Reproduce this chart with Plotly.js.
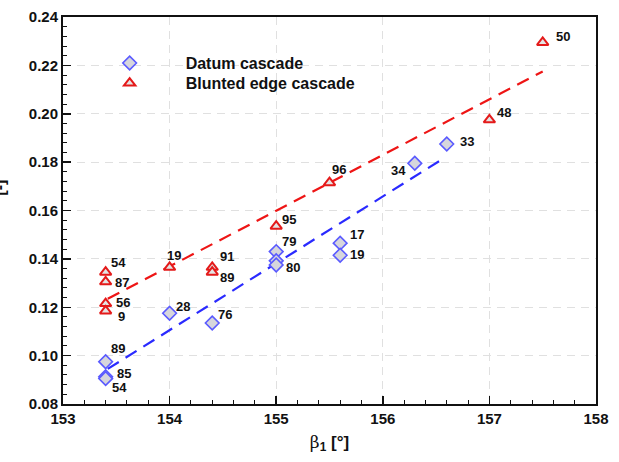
<!DOCTYPE html>
<html>
<head>
<meta charset="utf-8">
<script src="https://cdn.plot.ly/plotly-3.0.1.min.js"></script>
<style>html,body{margin:0;padding:0;background:#fff;}#chart{width:619px;height:462px;}</style>
</head>
<body>
<div id="chart"></div>
<script>
// Datum cascade
const datumX = [153.4, 153.4, 153.4, 154.0, 154.4, 155.0, 155.0, 155.0, 155.6, 155.6, 156.3, 156.6];
const datumY = [0.0975, 0.0913, 0.0905, 0.1175, 0.1135, 0.143, 0.1392, 0.1375, 0.1465, 0.1415, 0.1795, 0.1875];
const datumLbl = ['89', '85', '54', '28', '76', '79', '', '80', '17', '19', '34', '33'];
// Blunted edge cascade
const bluntX = [153.4, 153.4, 153.4, 153.4, 154.0, 154.4, 154.4, 155.0, 155.5, 157.0, 157.5];
const bluntY = [0.1345, 0.1305, 0.1215, 0.1185, 0.1365, 0.1365, 0.1345, 0.1535, 0.1715, 0.1975, 0.2295];
const bluntLbl = ['54', '87', '56', '9', '19', '91', '89', '95', '96', '48', '50'];
// linear fit end points
const datumFitX = [153.42, 156.55];
const datumFitY = [0.0945, 0.181];
const bluntFitX = [153.42, 157.5];
const bluntFitY = [0.1235, 0.2175];
const xTicks = [153, 154, 155, 156, 157, 158];
const yTicks = [0.08, 0.10, 0.12, 0.14, 0.16, 0.18, 0.20, 0.22, 0.24];

// label offsets (px, right / down)
const datumOff = [[12,-13],[18,-3],[14,9],[13,-7],[13,-8],[13,-10],[0,0],[17,3],[17,-9],[17,-1],[-16,7],[20,-2]];
const bluntOff = [[13,-10],[16,1],[17,-1],[16,6],[4,-12],[15,-11],[15,5],[13,-7],[9,-13],[15,-7],[20,-6]];

const FF = 'Liberation Sans, Arial, sans-serif';
const lblFont = {family: FF, size: 13, color: '#111'};
const annotations = [];
function addLabels(xs, ys, ls, offs) {
  for (let i = 0; i < xs.length; i++) {
    if (!ls[i]) continue;
    annotations.push({x: xs[i], y: ys[i], xref: 'x', yref: 'y', text: '<b>' + ls[i] + '</b>',
      showarrow: false, xshift: offs[i][0], yshift: -offs[i][1], font: lblFont});
  }
}
addLabels(datumX, datumY, datumLbl, datumOff);
addLabels(bluntX, bluntY, bluntLbl, bluntOff);
annotations.push({xref: 'paper', yref: 'paper', x: -0.139, y: 0.56, text: '<b>[-]</b>', textangle: -90,
  showarrow: false, font: {family: FF, size: 16, color: '#111'}});

const traces = [
  {x: datumFitX, y: datumFitY, mode: 'lines', showlegend: false, hoverinfo: 'skip',
   line: {color: '#2a2aff', width: 2.2, dash: '13px,8px'}},
  {x: bluntFitX, y: bluntFitY, mode: 'lines', showlegend: false, hoverinfo: 'skip',
   line: {color: '#ee1515', width: 2.2, dash: '13px,8px'}},
  {x: datumX, y: datumY, mode: 'markers', name: 'Datum cascade', legend: 'legend',
   marker: {symbol: 'diamond', size: 10.5, color: '#d6d6dc', line: {color: '#5a5aff', width: 1.6}}},
  {x: bluntX, y: bluntY, mode: 'markers', name: 'Blunted edge cascade', legend: 'legend2',
   marker: {symbol: 'triangle-up', size: 10, color: '#e4e4e4', line: {color: '#e41a1a', width: 2}}}
];

const legFont = {family: FF, size: 16, color: '#111', weight: 'bold'};
const axFont = {family: FF, size: 15, color: '#111'};
const layout = {
  width: 619, height: 462,
  margin: {l: 63, r: 23, t: 17, b: 58},
  paper_bgcolor: '#fff', plot_bgcolor: '#fff',
  showlegend: true,
  legend: {x: 0.02, y: 0.881, xanchor: 'left', yanchor: 'middle', bgcolor: 'rgba(0,0,0,0)',
    itemwidth: 102, font: legFont},
  legend2: {x: 0.02, y: 0.829, xanchor: 'left', yanchor: 'middle', bgcolor: 'rgba(0,0,0,0)',
    itemwidth: 102, font: legFont},
  xaxis: {range: [153, 158], tickvals: xTicks, ticktext: xTicks.map(v => '<b>' + v + '</b>'),
    ticks: 'inside', ticklen: 8, tickwidth: 1.5, tickcolor: '#111',
    minor: {dtick: 0.2, ticks: 'inside', ticklen: 4, tickwidth: 1, tickcolor: '#111', showgrid: false},
    showline: true, linecolor: '#111', linewidth: 2, mirror: true,
    showgrid: true, gridcolor: '#e0e0e0', griddash: '8px,6px', gridwidth: 1,
    zeroline: false, tickfont: axFont,
    title: {text: '<b><span style="font-family:DejaVu Serif;font-weight:normal">β</span><sub>1</sub> [°]</b>', standoff: 10,
      font: {family: FF, size: 17, color: '#111'}}},
  yaxis: {range: [0.08, 0.24], tickvals: yTicks, ticktext: yTicks.map(v => '<b>' + v.toFixed(2) + '</b>'),
    ticks: 'inside', ticklen: 8, tickwidth: 1.5, tickcolor: '#111',
    minor: {dtick: 0.004, ticks: 'inside', ticklen: 4, tickwidth: 1, tickcolor: '#111', showgrid: false},
    showline: true, linecolor: '#111', linewidth: 2, mirror: true,
    showgrid: true, gridcolor: '#e0e0e0', griddash: '8px,6px', gridwidth: 1,
    zeroline: false, tickfont: axFont},
  annotations: annotations
};
Plotly.newPlot('chart', traces, layout, {staticPlot: true, displayModeBar: false});
</script>
</body>
</html>
